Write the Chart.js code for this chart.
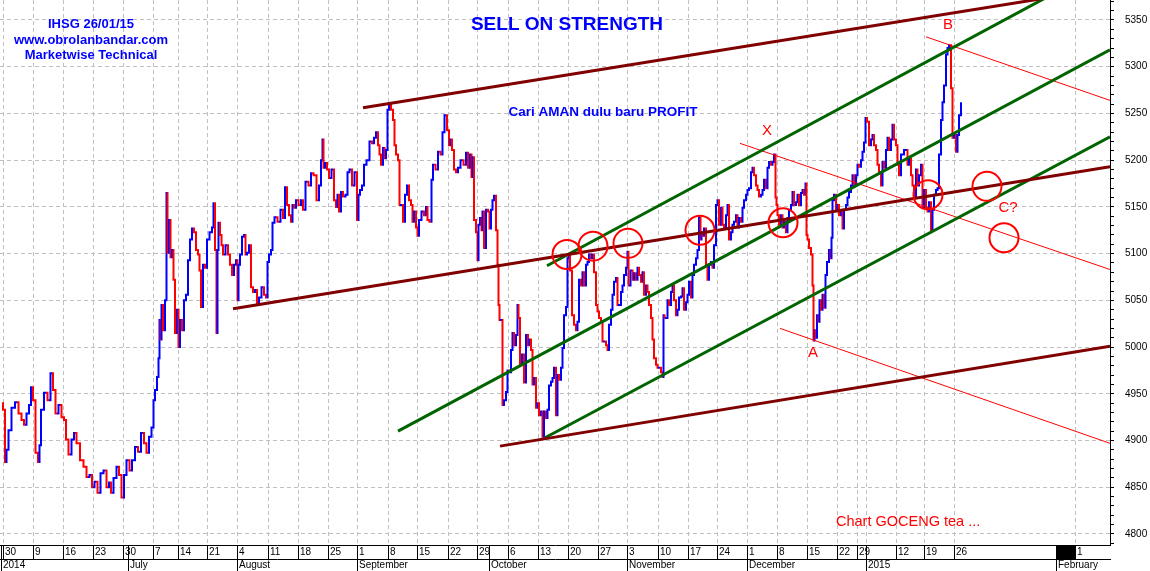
<!DOCTYPE html>
<html>
<head>
<meta charset="utf-8">
<title>IHSG 26/01/15</title>
<script src="https://cdn.jsdelivr.net/npm/chart.js@4.4.1/dist/chart.umd.min.js"></script>
<style>
    body { margin: 0; background: #fff; }
    canvas { display: block; }
</style>
</head>
<body>
<canvas id="ihsg" width="1150" height="571"></canvas>
<script>
// x = trading hour counted from the first bar (6 hours per trading day), y = index level
const ihsgBars = [
    [-1,4940],[1,4933],[3,4877],[4,4890],[7,4911],[10,4935],[14,4941],[17,4929],[20,4922],[22,4917],
    [25,4929],[27,4938],[29,4957],[31,4943],[34,4887],[36,4877],[37,4895],[39,4933],[43,4951],[46,4943],
    [49,4972],[51,4954],[54,4929],[57,4938],[60,4925],[62,4922],[64,4901],[67,4885],[70,4901],[72,4908],
    [75,4897],[79,4879],[82,4872],[85,4861],[88,4863],[90,4850],[93,4856],[96,4844],[99,4865],[102,4868],
    [105,4850],[107,4855],[109,4844],[112,4860],[115,4872],[117,4863],[120,4839],[122,4863],[125,4879],[128,4868],
    [130,4879],[134,4893],[136,4888],[140,4908],[142,4897],[145,4887],[147,4904],[150,4914],[151,4943],[153,4954],
    [155,4968],[156,4988],
    [157,5029],[158,5008],[159,5045],[161,5018],[163,5050],[164,5165],[165,5101],[167,5136],[168,5096],[170,5104],
    [171,5072],[173,5015],[175,5040],[176,5000],[178,5029],[180,5018],[182,5050],[184,5056],[186,5093],[188,5115],
    [190,5127],[192,5123],[194,5104],[196,5099],[197,5082],[199,5043],[201,5088],[203,5085],[205,5115],[208,5123],
    [210,5128],[211,5154],[213,5104],[214,5015],[215,5104],[216,5133],[218,5120],[219,5109],[221,5099],[224,5109],
    [226,5099],[228,5088],[230,5077],[232,5088],[234,5093],[235,5050],[236,5088],[238,5099],[240,5118],[242,5120],
    [243,5099],[245,5101],[247,5109],[249,5064],[251,5059],[253,5061],[255,5047],[257,5053],[260,5064],[262,5056],
    [264,5053],[265,5091],[267,5099],[269,5104],[270,5133],[273,5139],[276,5134],[279,5147],[281,5138],[283,5171],
    [285,5152],[287,5141],[289,5134],[290,5152],[292,5149],[294,5157],
    [297,5152],[299,5157],[301,5147],[304,5177],[307,5173],[309,5186],[312,5184],[315,5157],[317,5173],[319,5200],
    [320,5222],[321,5192],[323,5197],[325,5190],[327,5181],[330,5190],[332,5157],[334,5150],[335,5163],[337,5145],
    [339,5166],[341,5161],[344,5163],[345,5187],[348,5190],[350,5173],[353,5187],[355,5136],[356,5163],[358,5168],
    [360,5173],[362,5195],[365,5200],[368,5220],[370,5218],[372,5224],[374,5230],[376,5216],[377,5206],[379,5195],
    [381,5213],[382,5202],[384,5211],[385,5254],[387,5261],[389,5254],[391,5243],[392,5216],[394,5206],[396,5200],
    [397,5152],[399,5152],[401,5134],[403,5163],[405,5173],[407,5157],[409,5152],[410,5134],[412,5145],[414,5128],
    [415,5119],[417,5136],[420,5145],[422,5141],[424,5150],[425,5136],[428,5134],[429,5179],[431,5195],[434,5190],
    [436,5209],[439,5206],[440,5230],[443,5248],[445,5232],[447,5216],[448,5222],[450,5211],[452,5190],[454,5187],
    [456,5192],[459,5200],[462,5195],[464,5208],[466,5192],[468,5206],[469,5182],[470,5203],[472,5136],[474,5123],
    [475,5093],[476,5131],[478,5138],[479,5125],[480,5145],[482,5106],[484,5147],[486,5145],[487,5127],[489,5147],
    [490,5157],[492,5162],[494,5125],
    [495,5088],[496,5045],[497,5029],[499,5029],[500,4938],[502,4943],[504,4952],[505,4975],[507,4973],[509,4997],
    [510,5015],[512,5002],[514,5013],[515,5045],[516,5031],[518,4981],[520,4992],[522,4962],[524,5013],[526,5002],
    [527,5008],[529,4997],[530,4960],[532,4967],[534,4935],[535,4940],[537,4927],[539,4931],[540,4904],[542,4931],
    [544,4924],[545,4933],[547,4959],[549,4963],[550,4967],[552,4978],[554,4927],[555,4970],[557,4965],[559,4978],
    [560,4999],[562,5034],[564,5043],[565,5095],[566,5099],[568,5082],[570,5034],[572,5024],[574,5018],[575,5027],
    [577,5072],[579,5066],[580,5080],[582,5066],[584,5088],[585,5091],[587,5099],[588,5095],[590,5099],[592,5080],
    [594,5045],[595,5038],[597,5031],[599,5027],[600,5006],[602,5006],[604,5002],[605,4997],[607,5024],[609,5040],
    [610,5056],[612,5070],[614,5074],[615,5045],[617,5045],[619,5059],[620,5066],[622,5077],[624,5085],[625,5102],
    [626,5066],[629,5082],[630,5072],[632,5079],[634,5072],[635,5085],[637,5077],[639,5070],[640,5080],[642,5056],
    [644,5066],[645,5059],[647,5045],[649,5031],[650,5008],[652,4988],[654,4981],[655,4978],[657,4978],[659,4973],
    [660,4968],[661,5034],[662,5031],[664,5031],[665,5050],[667,5045],[669,5059],[670,5066],[672,5050],[674,5034],
    [675,5040],[677,5053],[679,5054],[680,5063],[682,5040],[684,5048],[685,5056],[687,5070],[689,5053],[690,5077],
    [692,5088],[694,5095],[695,5104],[697,5139],[698,5115],[699,5123],[700,5119],[702,5127],[704,5088],[705,5072],
    [707,5088],[709,5091],[710,5085],[712,5109],[714,5152],[715,5157],[717,5131],[719,5149],[720,5131],[722,5128],
    [724,5141],[725,5152],[727,5115],[729,5123],[730,5131],[732,5134],[734,5141],[735,5128],[737,5138],[739,5134],
    [740,5149],[742,5157],[744,5163],[745,5168],[747,5170],[749,5187],[750,5192],[752,5184],[754,5173],[755,5168],
    [757,5161],[759,5163],[760,5168],[762,5179],[764,5170],[765,5192],[767,5198],[769,5195],[770,5198],[772,5206],
    [773,5160],[774,5152],[775,5141],[777,5131],[779,5141],[780,5128],[782,5134],[784,5123],[785,5138],[787,5147],
    [789,5152],[790,5166],[792,5152],[794,5155],[795,5163],[797,5152],[799,5165],[800,5168],[802,5163],[803,5175],
    [804,5120],[805,5115],[807,5106],[809,5099],[810,5066],[811,5007],[812,5018],[813,5010],[815,5034],[816,5027],
    [817,5050],[819,5040],[820,5056],[822,5042],[823,5077],[825,5091],[827,5104],[828,5095],[829,5117],[830,5157],
    [832,5163],[834,5147],[835,5152],[837,5141],[839,5145],[840,5127],[842,5147],[844,5152],[845,5160],[847,5166],
    [849,5173],[850,5184],[852,5173],[854,5184],[855,5195],[857,5193],[859,5200],[860,5209],[862,5219],[863,5245],
    [865,5241],[867,5216],[869,5222],[870,5227],[872,5216],[874,5211],[875,5195],[877,5187],[879,5173],[880,5198],
    [882,5192],[884,5211],[885,5224],[887,5211],[889,5222],[890,5238],[892,5222],[894,5216],[895,5195],[897,5184],
    [899,5206],[900,5206],[902,5211],[904,5211],[905,5195],[907,5202],[909,5184],[910,5173],[912,5160],[914,5190],
    [915,5173],[917,5184],[919,5195],[920,5149],[922,5168],[924,5149],[925,5145],[927,5155],[929,5125],[930,5147],
    [932,5163],[934,5168],[935,5170],[937,5206],[939,5243],[940,5262],[942,5280],[944,5313],[945,5320],[947,5323],
    [949,5277],[950,5224],[952,5227],[954,5209],[955,5227],[957,5248],[959,5261]
];

const weekTickHours = [0,30,60,90,120,150,175,204,234,265,295,325,354,385,414,445,474,505,535,565,595,624,655,685,714,744,774,804,834,854,863,893,921,951,1072];
const weekTickLabels = ['30','9','16','23','30','7','14','21','4','11','18','25','1','8','15','22','29','6','13','20','27','3','10','17','24','1','8','15','22','29','','12','19','26','1'];
const monthTickHours = [-2,125,234,354,486,624,744,863,1053];
const monthTickLabels = ['2014','July','August','September','October','November','December','2015','February'];
const currentWeek = [1053, 1072];

const yLevels = [];
for (let v = 4790; v <= 5370; v += 10) yLevels.push(v);

// trend lines, [hour, level] end points
const brownLines = [
    [[360,5256],[1040,5373]],
    [[230,5041],[1107,5193]],
    [[497,4894],[1107,5001]]
];
const greenLines = [
    [[544,5087],[1057,5382]],
    [[395,4910],[1107,5318]],
    [[542,4903],[1107,5225]]
];
const redLines = [
    [[737,5218],[1107,5083]],
    [[923,5332],[1107,5264]],
    [[777,5020],[1107,4897]]
];
const circleMarks = [[564,5099],[590,5108],[625,5111],[697,5125],[780,5133],[925,5163],[984,5172],[1001,5117]];
const waveLabels = [['X',764,5231],['A',810,4994],['B',945,5345],['C?',1005,5149]];
const headerText = ['IHSG 26/01/15', 'www.obrolanbandar.com', 'Marketwise Technical'];

function tightFit(scale) {
    scale.paddingLeft = 0;
    scale.paddingRight = 0;
    scale.paddingTop = 0;
    scale.paddingBottom = 0;
}

function lineSet(pts, color, width) {
    return {
        type: 'line',
        data: pts.map(p => ({x: p[0], y: p[1]})),
        borderColor: color,
        borderWidth: width,
        pointRadius: 0,
        fill: false,
        order: 1
    };
}

const dateRowHours = [...new Set(weekTickHours.concat(monthTickHours))].sort((a, b) => a - b);

const annotate = {
    id: 'annotate',
    afterDraw(chart) {
        const ctx = chart.ctx;
        const x = chart.scales.x;
        const y = chart.scales.y;
        ctx.save();

        const b1 = x.getPixelForValue(currentWeek[0]);
        const b2 = x.getPixelForValue(currentWeek[1]);
        ctx.fillStyle = '#000';
        ctx.fillRect(b1, x.top, b2 - b1, x.bottom - x.top);

        ctx.textAlign = 'center';
        ctx.textBaseline = 'middle';
        ctx.fillStyle = '#0000ff';
        ctx.font = 'bold 13px "Liberation Sans", Arial, sans-serif';
        const headLevels = [5345, 5328, 5312];
        headerText.forEach((t, i) => {
            ctx.fillText(t, x.getPixelForValue(88), y.getPixelForValue(headLevels[i]));
        });

        ctx.font = 'bold 19px "Liberation Sans", Arial, sans-serif';
        ctx.fillText('SELL ON STRENGTH', x.getPixelForValue(564), y.getPixelForValue(5345));

        ctx.font = 'bold 13.5px "Liberation Sans", Arial, sans-serif';
        ctx.fillText('Cari AMAN dulu baru PROFIT', x.getPixelForValue(600), y.getPixelForValue(5251));

        ctx.fillStyle = '#ff0000';
        ctx.font = '15px "Liberation Sans", Arial, sans-serif';
        waveLabels.forEach(w => {
            ctx.fillText(w[0], x.getPixelForValue(w[1]), y.getPixelForValue(w[2]));
        });

        ctx.textAlign = 'left';
        ctx.font = '14.5px "Liberation Sans", Arial, sans-serif';
        ctx.fillText('Chart GOCENG tea ...', x.getPixelForValue(833), y.getPixelForValue(4813));
        ctx.restore();
    }
};

function createChart() {
    Chart.defaults.font.family = '"Liberation Sans", Arial, sans-serif';
    const datasets = [];

    // stepped so each move shows as a vertical bar like the source bar chart
    datasets.push({
        type: 'line',
        data: ihsgBars.map(b => ({x: b[0], y: b[1]})),
        borderColor: '#0000ff',
        borderWidth: 2,
        stepped: 'middle',
        pointRadius: 0,
        fill: false,
        segment: {
            borderColor: c => c.p1.parsed.y < c.p0.parsed.y ? '#ff0000' : '#0000ff'
        },
        order: 3
    });
    brownLines.forEach(l => datasets.push(lineSet(l, '#800000', 3)));
    greenLines.forEach(l => datasets.push(lineSet(l, '#006400', 3)));
    redLines.forEach(l => datasets.push(lineSet(l, '#ff0000', 1)));
    datasets.push({
        type: 'line',
        showLine: false,
        data: circleMarks.map(c => ({x: c[0], y: c[1]})),
        pointRadius: 14.5,
        pointBorderWidth: 2,
        pointBorderColor: '#ff0000',
        pointBackgroundColor: 'rgba(0,0,0,0)',
        order: 0
    });

    const config = {
        type: 'line',
        data: { datasets: datasets },
        options: {
            responsive: false,
            animation: false,
            devicePixelRatio: 1,
            events: [],
            layout: { padding: 0, autoPadding: false },
            plugins: {
                legend: { display: false },
                tooltip: { enabled: false }
            },
            scales: {
                x: {
                    type: 'linear',
                    position: 'bottom',
                    min: -3,
                    max: 1107,
                    afterBuildTicks: s => { s.ticks = dateRowHours.map(v => ({value: v})); },
                    afterFit: s => { s.height = 14; tightFit(s); },
                    ticks: {
                        autoSkip: false,
                        maxRotation: 0,
                        minRotation: 0,
                        align: 'start',
                        labelOffset: 2,
                        padding: -13,
                        color: '#000',
                        font: { size: 10 },
                        callback: v => {
                            const i = weekTickHours.indexOf(v);
                            return i < 0 ? '' : weekTickLabels[i];
                        }
                    },
                    grid: {
                        color: c => (c.tick && weekTickHours.includes(c.tick.value)) ? '#c0c0c0' : 'rgba(0,0,0,0)',
                        tickColor: '#000',
                        tickLength: 14,
                        lineWidth: 1
                    },
                    border: { color: '#000', dash: [4, 3] }
                },
                x2: {
                    type: 'linear',
                    position: 'bottom',
                    weight: 1,
                    min: -3,
                    max: 1107,
                    afterBuildTicks: s => { s.ticks = monthTickHours.map(v => ({value: v})); },
                    afterFit: s => { s.height = 12; tightFit(s); },
                    ticks: {
                        autoSkip: false,
                        maxRotation: 0,
                        minRotation: 0,
                        align: 'start',
                        labelOffset: 2,
                        padding: -11.5,
                        color: '#000',
                        font: { size: 10 },
                        callback: (v, i) => monthTickLabels[i]
                    },
                    grid: {
                        drawOnChartArea: false,
                        tickColor: '#000',
                        tickLength: 12
                    },
                    border: { color: '#000' }
                },
                y: {
                    type: 'linear',
                    position: 'right',
                    min: 4788.2,
                    max: 5371.4,
                    afterBuildTicks: s => { s.ticks = yLevels.map(v => ({value: v})); },
                    afterFit: s => { s.width = 40; tightFit(s); },
                    ticks: {
                        autoSkip: false,
                        padding: 11,
                        color: '#000',
                        font: { size: 10 },
                        callback: v => v % 50 === 0 ? String(v) : ''
                    },
                    grid: {
                        color: c => (c.tick && c.tick.value % 50 === 0) ? '#c0c0c0' : 'rgba(0,0,0,0)',
                        tickColor: '#000',
                        tickLength: 4
                    },
                    border: { color: '#000', dash: [4, 3] }
                }
            }
        },
        plugins: [annotate]
    };

    return new Chart(document.getElementById('ihsg').getContext('2d'), config);
}

createChart();
</script>
</body>
</html>
